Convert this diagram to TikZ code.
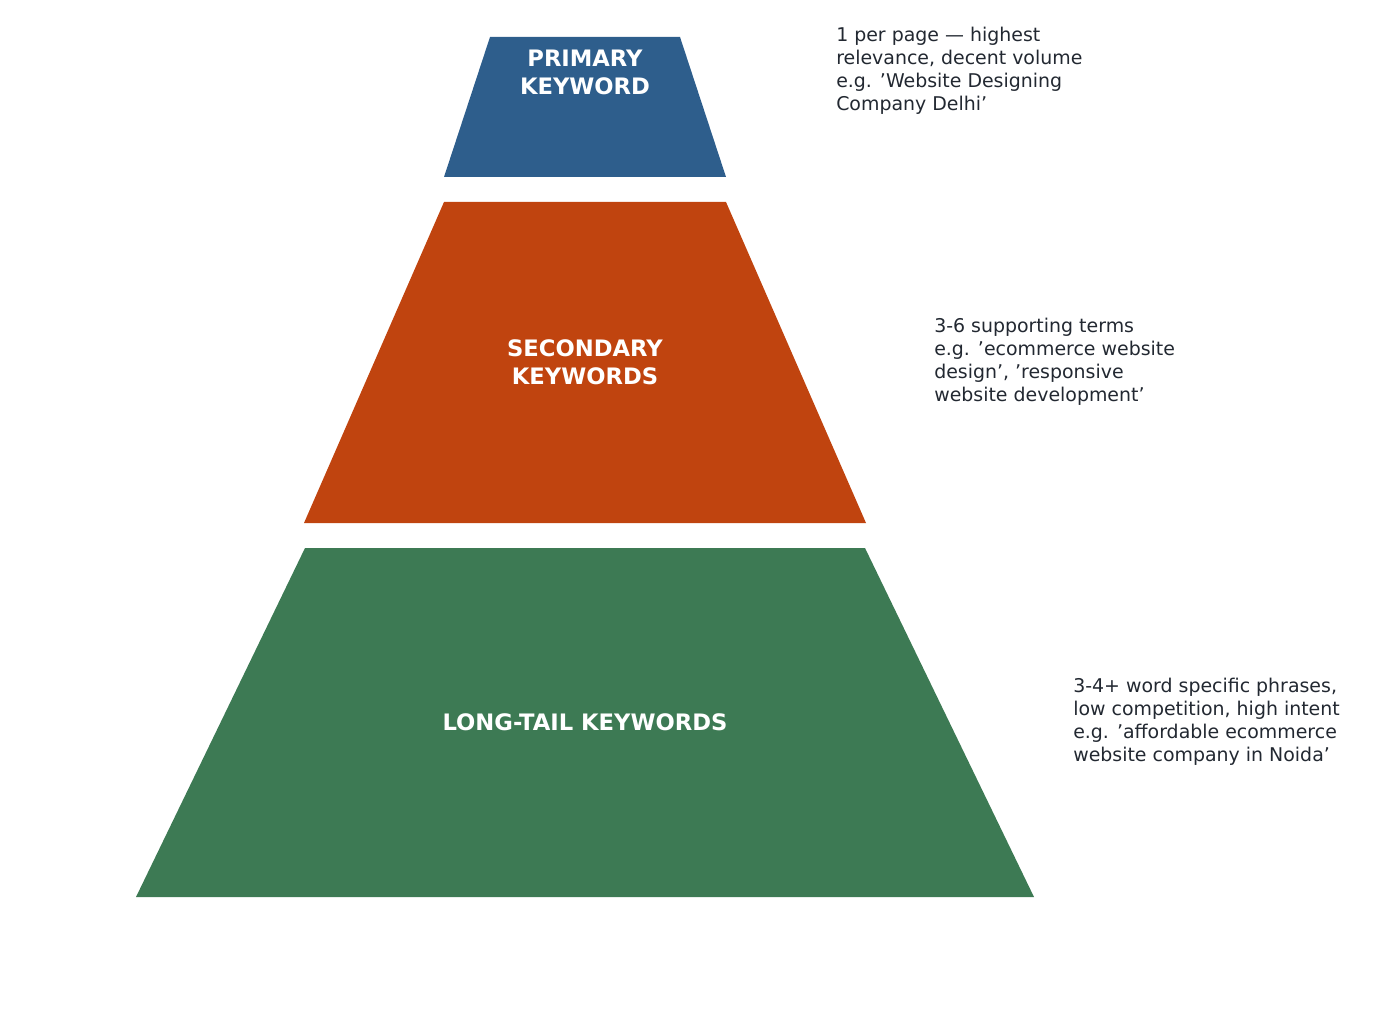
\documentclass[tikz,border=0pt]{standalone}
\usepackage{fontspec}
\setmainfont{DejaVu Sans}
\usetikzlibrary{positioning}
\definecolor{primaryblue}{HTML}{2E5E8C}
\definecolor{secondorange}{HTML}{C0440F}
\definecolor{tailgreen}{HTML}{3D7A54}
\definecolor{notegray}{HTML}{222831}
\begin{document}
\begin{tikzpicture}[
            x = 0.75pt, y = -0.75pt, % pixel grid
            tier/.style = {font=\fontsize{17}{21}\selectfont\bfseries, text=white, align=center},
            note/.style = {font=\fontsize{14.2}{17.3}\selectfont, text=notegray, align=left, anchor=west, inner sep=0pt}
        ]
        \useasboundingbox (0,0) rectangle (1398,1034);

        % tiers
        \fill[primaryblue] (490,37) -- (680,37) -- (726,177) -- (444,177) -- cycle;
        \fill[secondorange] (444,202) -- (726,202) -- (866,523) -- (304,523) -- cycle;
        \fill[tailgreen] (305,548) -- (865,548) -- (1034,897) -- (136,897) -- cycle;

        % labels
        \node[tier] (P) at (585,72) {PRIMARY\\KEYWORD};
        \node[tier] (S) at (585,362) {SECONDARY\\KEYWORDS};
        \node[tier] (L) at (585,722) {LONG-TAIL KEYWORDS};

        % notes
        \node[note] (NP) at (836,71) {1 per page — highest\\relevance, decent volume\\e.g. 'Website Designing\\Company Delhi'};
        \node[note] (NS) at (934,362) {3-6 supporting terms\\e.g. 'ecommerce website\\design', 'responsive\\website development'};
        \node[note] (NL) at (1073,722) {3-4+ word specific phrases,\\low competition, high intent\\e.g. 'affordable ecommerce\\website company in Noida'};
\end{tikzpicture}
\end{document}
